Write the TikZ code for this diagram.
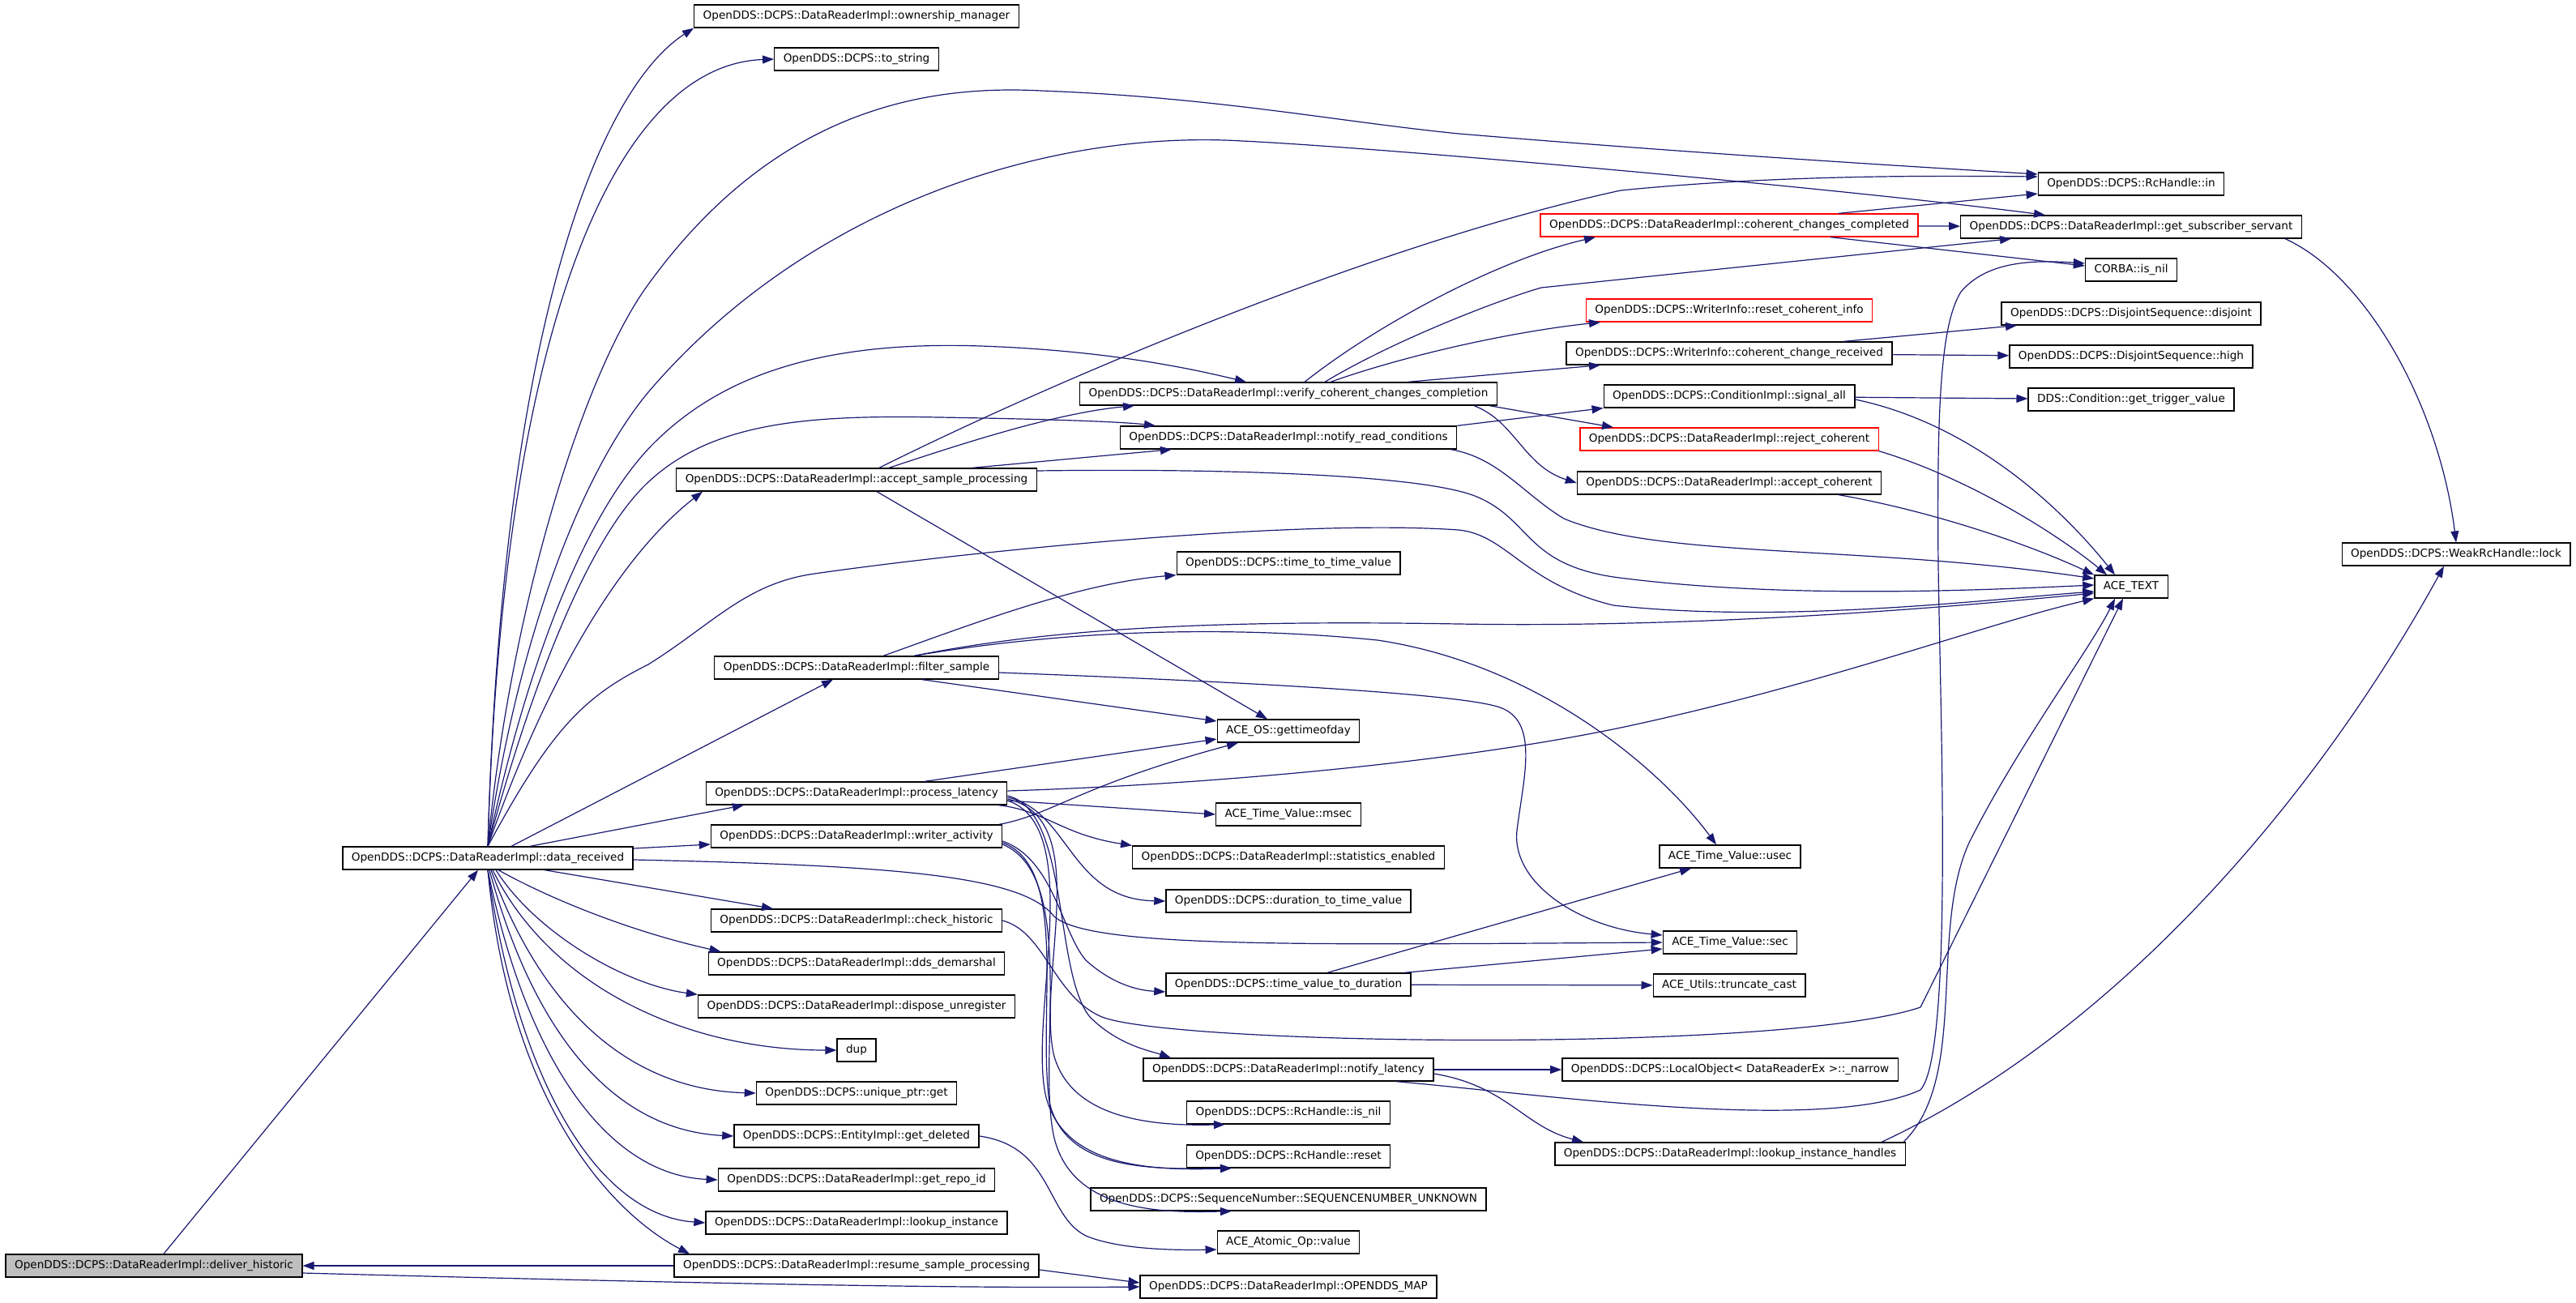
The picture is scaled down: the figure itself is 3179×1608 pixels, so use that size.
\documentclass[tikz,border=0pt]{standalone}
\usepackage{fontspec}
\setmainfont{DejaVu Sans}
\usetikzlibrary{arrows.meta}

\begin{document}
\begin{tikzpicture}[x=1pt,y=-1pt,
    fnode/.style={draw=r0g0b0,line width=1.3pt,fill=white,inner xsep=11pt,inner ysep=0pt,
      minimum height=28pt,font=\fontsize{13.6pt}{16pt}\selectfont},
    rnode/.style={fnode,draw=r255g0b0},
    cnode/.style={fnode,fill=r191g191b191},
    edge/.style={draw=r25g25b112,line width=1.2pt,-{Triangle[length=14pt,width=10pt]}}]
                    \useasboundingbox (0,0) rectangle (3179,1608);
                    
                    % Changing colors
                    \definecolor{r0g0b0}{rgb}{0.000000,0.000000,0.000000}%
                    \definecolor{r255g0b0}{rgb}{1.000000,0.000000,0.000000}%
                    \definecolor{r191g191b191}{rgb}{0.749020,0.749020,0.749020}%
                    \definecolor{r25g25b112}{rgb}{0.098039,0.098039,0.439216}%
                    
                    % Drawing node deliver_historic (the root)
                    \node[cnode] (dh) at (190,1562) {OpenDDS::DCPS::DataReaderImpl::deliver\_historic};%
                    
                    % Drawing node data_received
                    \node[fnode] (dr) at (602,1059) {OpenDDS::DCPS::DataReaderImpl::data\_received};%
                    
                    % Drawing nodes of the third column
                    \node[fnode] (own) at (1057,20) {OpenDDS::DCPS::DataReaderImpl::ownership\_manager};%
                    \node[fnode] (tostr) at (1057,73) {OpenDDS::DCPS::to\_string};%
                    \node[fnode] (asp) at (1057,592) {OpenDDS::DCPS::DataReaderImpl::accept\_sample\_processing};%
                    \node[fnode] (filt) at (1057,824) {OpenDDS::DCPS::DataReaderImpl::filter\_sample};%
                    \node[fnode] (plat) at (1057,979) {OpenDDS::DCPS::DataReaderImpl::process\_latency};%
                    \node[fnode] (wact) at (1057,1032) {OpenDDS::DCPS::DataReaderImpl::writer\_activity};%
                    \node[fnode] (chist) at (1057,1136) {OpenDDS::DCPS::DataReaderImpl::check\_historic};%
                    \node[fnode] (ddsd) at (1057,1189) {OpenDDS::DCPS::DataReaderImpl::dds\_demarshal};%
                    \node[fnode] (disp) at (1057,1242) {OpenDDS::DCPS::DataReaderImpl::dispose\_unregister};%
                    \node[fnode] (dup) at (1057,1296) {dup};%
                    \node[fnode] (uptr) at (1057,1349) {OpenDDS::DCPS::unique\_ptr::get};%
                    \node[fnode] (gdel) at (1057,1402) {OpenDDS::DCPS::EntityImpl::get\_deleted};%
                    \node[fnode] (grid) at (1057,1456) {OpenDDS::DCPS::DataReaderImpl::get\_repo\_id};%
                    \node[fnode] (linst) at (1057,1509) {OpenDDS::DCPS::DataReaderImpl::lookup\_instance};%
                    \node[fnode] (resume) at (1057,1562) {OpenDDS::DCPS::DataReaderImpl::resume\_sample\_processing};%
                    
                    % Drawing nodes of the fourth column
                    \node[fnode] (verify) at (1590,486) {OpenDDS::DCPS::DataReaderImpl::verify\_coherent\_changes\_completion};%
                    \node[fnode] (nrc) at (1590,540) {OpenDDS::DCPS::DataReaderImpl::notify\_read\_conditions};%
                    \node[fnode] (ttv) at (1590,695) {OpenDDS::DCPS::time\_to\_time\_value};%
                    \node[fnode] (gtod) at (1590,902) {ACE\_OS::gettimeofday};%
                    \node[fnode] (msec) at (1590,1005) {ACE\_Time\_Value::msec};%
                    \node[fnode] (stat) at (1590,1058) {OpenDDS::DCPS::DataReaderImpl::statistics\_enabled};%
                    \node[fnode] (d2tv) at (1590,1112) {OpenDDS::DCPS::duration\_to\_time\_value};%
                    \node[fnode] (tv2d) at (1590,1215) {OpenDDS::DCPS::time\_value\_to\_duration};%
                    \node[fnode] (nlat) at (1590,1320) {OpenDDS::DCPS::DataReaderImpl::notify\_latency};%
                    \node[fnode] (isnil) at (1590,1373) {OpenDDS::DCPS::RcHandle::is\_nil};%
                    \node[fnode] (reset) at (1590,1427) {OpenDDS::DCPS::RcHandle::reset};%
                    \node[fnode] (seqn) at (1590,1480) {OpenDDS::DCPS::SequenceNumber::SEQUENCENUMBER\_UNKNOWN};%
                    \node[fnode] (atom) at (1590,1533) {ACE\_Atomic\_Op::value};%
                    \node[fnode] (omap) at (1590,1588) {OpenDDS::DCPS::DataReaderImpl::OPENDDS\_MAP};%
                    
                    % Drawing nodes of the fifth column
                    \node[rnode] (ccc) at (2134,278) {OpenDDS::DCPS::DataReaderImpl::coherent\_changes\_completed};%
                    \node[rnode] (rci) at (2134,383) {OpenDDS::DCPS::WriterInfo::reset\_coherent\_info};%
                    \node[fnode] (ccr) at (2134,436) {OpenDDS::DCPS::WriterInfo::coherent\_change\_received};%
                    \node[fnode] (sigall) at (2134,489) {OpenDDS::DCPS::ConditionImpl::signal\_all};%
                    \node[rnode] (rejc) at (2134,542) {OpenDDS::DCPS::DataReaderImpl::reject\_coherent};%
                    \node[fnode] (accc) at (2134,596) {OpenDDS::DCPS::DataReaderImpl::accept\_coherent};%
                    \node[fnode] (usec) at (2135,1057) {ACE\_Time\_Value::usec};%
                    \node[fnode] (sec) at (2135,1163) {ACE\_Time\_Value::sec};%
                    \node[fnode] (trunc) at (2134,1216) {ACE\_Utils::truncate\_cast};%
                    \node[fnode] (narrow) at (2135,1320) {OpenDDS::DCPS::LocalObject< DataReaderEx >::\_narrow};%
                    \node[fnode] (lih) at (2135,1424) {OpenDDS::DCPS::DataReaderImpl::lookup\_instance\_handles};%
                    
                    % Drawing nodes of the sixth column
                    \node[fnode] (rcin) at (2630,227) {OpenDDS::DCPS::RcHandle::in};%
                    \node[fnode] (gss) at (2630,280) {OpenDDS::DCPS::DataReaderImpl::get\_subscriber\_servant};%
                    \node[fnode] (cnil) at (2630,333) {CORBA::is\_nil};%
                    \node[fnode] (disj) at (2630,387) {OpenDDS::DCPS::DisjointSequence::disjoint};%
                    \node[fnode] (high) at (2630,440) {OpenDDS::DCPS::DisjointSequence::high};%
                    \node[fnode] (trig) at (2630,493) {DDS::Condition::get\_trigger\_value};%
                    \node[fnode] (acetext) at (2630,724) {ACE\_TEXT};%
                    
                    % Drawing node lock
                    \node[fnode] (lock) at (3031,684) {OpenDDS::DCPS::WeakRcHandle::lock};%
                    
                    % Drawing edges of deliver_historic
                    \draw[edge] (dh) -- (dr);%
                    \draw[edge] ([yshift=-9pt]dh.east) .. controls (900,1585) and (1200,1590) .. (omap.west);%
                    \draw[edge] (resume) -- (dh);%
                    \draw[edge] ([yshift=-5pt]resume.east) -- ([yshift=5pt]omap.west);%
                    
                    % Drawing edges of data_received, upwards
                    \draw[edge] (dr.north) .. controls (620,400) and (740,110) .. (own.south west);%
                    \draw[edge] (dr.north) .. controls (620,400) and (760,80) .. (tostr.west);%
                    \draw[edge] (dr.north) .. controls (630,750) and (720,460) .. (800,351) .. controls (960,130) and (1150,105) .. (1285,112) .. controls (1500,120) and (1650,150) .. (1800,165) .. controls (2100,190) and (2350,205) .. ([yshift=12pt]rcin.west);%
                    \draw[edge] (dr.north) .. controls (640,780) and (720,580) .. (800,484) .. controls (1000,250) and (1300,160) .. (1533,174) .. controls (1700,182) and (2250,230) .. ([xshift=-106pt]gss.north);%
                    \draw[edge] (dr.north) .. controls (650,820) and (720,640) .. (800,554) .. controls (880,470) and (1000,420) .. (1210,427) .. controls (1350,432) and (1450,450) .. ([xshift=-52pt]verify.north);%
                    \draw[edge] (dr.north) .. controls (660,830) and (730,660) .. (800,595) .. controls (880,520) and (1000,512) .. (1159,515) .. controls (1280,517) and (1380,520) .. ([xshift=-164pt]nrc.north);%
                    \draw[edge] (dr.north) .. controls (670,850) and (760,690) .. ([xshift=-190pt]asp.south);%
                    \draw[edge] (dr.north) .. controls (680,900) and (720,860) .. (800,820) .. controls (880,770) and (920,720) .. (1005,708) .. controls (1200,680) and (1600,640) .. (1800,654) .. controls (1860,660) and (1880,720) .. (1991,747) .. controls (2200,770) and (2450,740) .. ([yshift=-6pt]acetext.west);%
                    \draw[edge] ([xshift=29pt]dr.north) -- ([xshift=-29pt]filt.south);%
                    \draw[edge] ([xshift=52pt]dr.north) -- ([xshift=-139pt]plat.south);%
                    
                    % Drawing edges of data_received, to the right and downwards
                    \draw[edge] ([yshift=12pt]dr.east) -- ([yshift=-10pt]wact.west);%
                    \draw[edge] ([yshift=-2pt]dr.east) .. controls (1100,1068) and (1260,1080) .. (1300,1130) .. controls (1340,1170) and (1600,1166) .. (sec.west);%
                    \draw[edge] ([xshift=70pt]dr.south) -- ([xshift=-103pt]chist.north);%
                    \draw[edge] ([xshift=13pt]dr.south) .. controls (680,1110) and (780,1150) .. ([xshift=16pt]ddsd.north west);%
                    \draw[edge] ([xshift=10pt]dr.south) .. controls (660,1150) and (770,1215) .. (disp.north west);%
                    \draw[edge] ([xshift=6pt]dr.south) .. controls (680,1220) and (850,1296) .. (dup.west);%
                    \draw[edge] ([xshift=4pt]dr.south) .. controls (670,1250) and (780,1345) .. (uptr.west);%
                    \draw[edge] ([xshift=2pt]dr.south) .. controls (660,1280) and (760,1395) .. (gdel.west);%
                    \draw[edge] (dr.south) .. controls (650,1310) and (750,1450) .. (grid.west);%
                    \draw[edge] (dr.south) .. controls (640,1340) and (740,1500) .. (linst.west);%
                    \draw[edge] (dr.south) .. controls (630,1370) and (760,1500) .. ([xshift=-206pt]resume.north);%
                    
                    % Drawing edges of accept_sample_processing
                    \draw[edge] ([xshift=40pt]asp.north) .. controls (1180,550) and (1300,510) .. ([xshift=-190pt]verify.south);%
                    \draw[edge] ([xshift=143pt]asp.north) -- ([xshift=-144pt]nrc.south);%
                    \draw[edge] ([xshift=28pt]asp.north) .. controls (1300,470) and (1700,300) .. (2000,235) .. controls (2200,215) and (2400,217) .. ([yshift=9pt]rcin.west);%
                    \draw[edge] ([xshift=25pt]asp.south) -- ([xshift=-26pt]gtod.north);%
                    \draw[edge] ([yshift=11pt]asp.east) .. controls (1500,578) and (1750,585) .. (1820,612) .. controls (1890,640) and (1880,695) .. (1991,712) .. controls (2200,740) and (2450,728) .. ([yshift=2pt]acetext.west);%
                    
                    % Drawing edges of verify_coherent_changes_completion
                    \draw[edge] ([xshift=20pt]verify.north) .. controls (1700,400) and (1850,320) .. ([xshift=-165pt]ccc.south);%
                    \draw[edge] ([xshift=45pt]verify.north) .. controls (1720,420) and (1850,370) .. (1902,355) -- ([xshift=-148pt]gss.south);%
                    \draw[edge] ([xshift=52pt]verify.north) .. controls (1730,440) and (1860,410) .. ([xshift=-159pt]rci.south);%
                    \draw[edge] ([xshift=147pt]verify.north) -- ([xshift=-159pt]ccr.south);%
                    \draw[edge] ([xshift=-10pt]verify.south east) -- ([xshift=-143pt]rejc.north);%
                    \draw[edge] ([xshift=229pt]verify.south) .. controls (1870,520) and (1880,575) .. (accc.west);%
                    
                    % Drawing edges of notify_read_conditions
                    \draw[edge] (nrc.north east) -- (sigall.south west);%
                    \draw[edge] ([xshift=-8pt]nrc.south east) .. controls (1850,565) and (1880,610) .. (1930,640) .. controls (2050,690) and (2300,672) .. ([yshift=10pt]acetext.west);%
                    
                    % Drawing edges of the fifth column
                    \draw[edge] ([xshift=135pt]ccc.north) -- ([yshift=-12pt]rcin.west);%
                    \draw[edge] (ccc) -- (gss);%
                    \draw[edge] ([xshift=125pt]ccc.south) -- ([yshift=5pt]cnil.west);%
                    \draw[edge] ([xshift=141pt]ccr.north) -- ([xshift=-141pt]disj.south);%
                    \draw[edge] (ccr) -- (high);%
                    \draw[edge] (sigall) -- (trig);%
                    \draw[edge] ([yshift=-4pt]sigall.east) .. controls (2420,520) and (2530,610) .. ([xshift=-20pt]acetext.north);%
                    \draw[edge] (rejc.south east) .. controls (2430,590) and (2540,660) .. ([xshift=-30pt]acetext.north);%
                    \draw[edge] ([xshift=135pt]accc.south) .. controls (2380,630) and (2500,670) .. (acetext.north west);%
                    \draw[edge] ([xshift=190pt]gss.south) .. controls (2920,340) and (3010,500) .. (lock.north);%
                    
                    % Drawing edges of filter_sample
                    \draw[edge] ([xshift=33pt]filt.north) .. controls (1200,770) and (1330,720) .. (ttv.south west);%
                    \draw[edge] ([xshift=71pt]filt.north) .. controls (1300,780) and (1500,770) .. (1700,790) .. controls (1900,820) and (2050,950) .. ([xshift=-17pt]usec.north);%
                    \draw[edge] ([xshift=71pt]filt.north) .. controls (1300,775) and (1500,765) .. (1800,770) .. controls (2100,775) and (2400,750) .. ([yshift=-8pt]acetext.west);%
                    \draw[edge] ([xshift=81pt]filt.south) -- ([yshift=12pt]gtod.west);%
                    \draw[edge] ([yshift=-6pt]filt.east) .. controls (1500,840) and (1800,855) .. (1851,873) .. controls (1900,890) and (1880,960) .. (1872,1025) .. controls (1865,1090) and (1950,1145) .. ([yshift=9pt]sec.west);%
                    
                    % Drawing edges of process_latency
                    \draw[edge] ([xshift=84pt]plat.north) -- ([yshift=-10pt]gtod.west);%
                    \draw[edge] ([yshift=3pt]plat.east) .. controls (1500,968) and (1800,940) .. (2000,898) .. controls (2250,845) and (2450,770) .. (acetext.south west);%
                    \draw[edge] ([yshift=-9pt]plat.east) -- (msec.west);%
                    \draw[edge] ([xshift=175pt]plat.south) .. controls (1290,1000) and (1310,1030) .. (stat.north west);%
                    \draw[edge] ([yshift=-5pt]plat.east) .. controls (1320,1000) and (1320,1110) .. (d2tv.west);%
                    \draw[edge] ([yshift=-3pt]plat.east) .. controls (1320,1000) and (1300,1200) .. (1345,1255) .. controls (1380,1290) and (1420,1297) .. ([xshift=-145pt]nlat.north);%
                    \draw[edge] ([yshift=-7pt]plat.east) .. controls (1350,1010) and (1280,1200) .. (1300,1300) .. controls (1320,1380) and (1420,1390) .. ([xshift=-78pt]isnil.south);%
                    \draw[edge] ([yshift=-9pt]plat.east) .. controls (1340,1020) and (1270,1250) .. (1290,1350) .. controls (1310,1440) and (1420,1445) .. ([xshift=-70pt]reset.south);%
                    
                    % Drawing edges of writer_activity
                    \draw[edge] ([xshift=176pt]wact.north) .. controls (1300,1005) and (1330,970) .. ([xshift=-62pt]gtod.south);%
                    \draw[edge] ([yshift=-6pt]wact.east) .. controls (1300,1060) and (1310,1150) .. (1340,1185) .. controls (1370,1212) and (1400,1222) .. ([yshift=-9pt]tv2d.west);%
                    \draw[edge] ([yshift=-8pt]wact.east) .. controls (1320,1070) and (1280,1250) .. (1295,1360) .. controls (1315,1445) and (1420,1443) .. ([xshift=-70pt]reset.south);%
                    \draw[edge] ([yshift=-10pt]wact.east) .. controls (1330,1080) and (1280,1300) .. (1300,1400) .. controls (1320,1495) and (1430,1497) .. ([xshift=-70pt]seqn.south);%
                    
                    % Drawing edges of check_historic and get_deleted
                    \draw[edge] (chist.east) .. controls (1290,1150) and (1300,1230) .. (1360,1255) .. controls (1450,1290) and (2200,1300) .. (2370,1243) -- ([xshift=-10pt]acetext.south);%
                    \draw[edge] (gdel.east) .. controls (1300,1415) and (1290,1500) .. (1340,1525) .. controls (1380,1542) and (1450,1543) .. ([yshift=-9pt]atom.west);%
                    
                    % Drawing edges of time_value_to_duration
                    \draw[edge] ([xshift=48pt]tv2d.north) -- ([xshift=-48pt]usec.south);%
                    \draw[edge] ([xshift=143pt]tv2d.north) -- ([yshift=-8pt]sec.west);%
                    \draw[edge] (tv2d) -- (trunc);%
                    
                    % Drawing edges of notify_latency
                    \draw[edge] (nlat) -- (narrow);%
                    \draw[edge] ([yshift=-5pt]nlat.east) .. controls (1860,1340) and (1880,1390) .. ([xshift=-181pt]lih.north);%
                    \draw[edge] ([xshift=133pt]nlat.south) .. controls (1900,1350) and (2250,1400) .. (2370,1345) .. controls (2410,1300) and (2395,900) .. (2392,700) .. controls (2390,500) and (2395,400) .. (2420,360) .. controls (2450,325) and (2500,320) .. ([yshift=8pt]cnil.west);%
                    
                    % Drawing edges of lookup_instance_handles
                    \draw[edge] ([xshift=214pt]lih.north) .. controls (2430,1330) and (2380,1150) .. (2430,1040) .. controls (2490,920) and (2580,800) .. ([xshift=-20pt]acetext.south);%
                    \draw[edge] ([xshift=187pt]lih.north) .. controls (2600,1280) and (2850,1000) .. ([xshift=-15pt]lock.south);%
                \end{tikzpicture}
\end{document}
